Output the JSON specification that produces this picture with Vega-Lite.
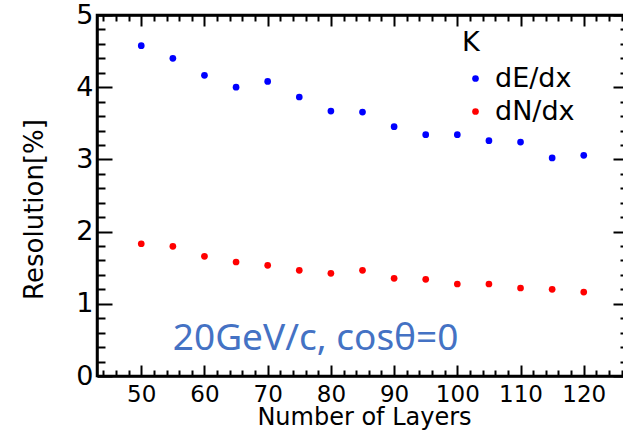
{
  "$schema": "https://vega.github.io/schema/vega-lite/v6.json",
  "width": 531,
  "height": 361,
  "autosize": {"type": "none"},
  "padding": {"left": 97, "top": 15, "right": -5, "bottom": 58},
  "background": "white",
  "config": {
    "font": "DejaVu Sans",
    "view": {"stroke": "black", "strokeWidth": 2.5},
    "axis": {"domainColor": "black", "domainWidth": 2.5, "tickColor": "black", "tickWidth": 2, "labelColor": "black", "titleColor": "black", "grid": false, "labelOverlap": false, "labelFont": "DejaVu Sans", "titleFont": "DejaVu Sans", "titleFontWeight": "normal"}
  },
  "datasets": {
    "res": [
      {"layers": 50, "resolution": 4.575, "series": "dE/dx"},
      {"layers": 55, "resolution": 4.40, "series": "dE/dx"},
      {"layers": 60, "resolution": 4.165, "series": "dE/dx"},
      {"layers": 65, "resolution": 4.00, "series": "dE/dx"},
      {"layers": 70, "resolution": 4.08, "series": "dE/dx"},
      {"layers": 75, "resolution": 3.864, "series": "dE/dx"},
      {"layers": 80, "resolution": 3.67, "series": "dE/dx"},
      {"layers": 85, "resolution": 3.656, "series": "dE/dx"},
      {"layers": 90, "resolution": 3.453, "series": "dE/dx"},
      {"layers": 95, "resolution": 3.342, "series": "dE/dx"},
      {"layers": 100, "resolution": 3.342, "series": "dE/dx"},
      {"layers": 105, "resolution": 3.26, "series": "dE/dx"},
      {"layers": 110, "resolution": 3.24, "series": "dE/dx"},
      {"layers": 115, "resolution": 3.02, "series": "dE/dx"},
      {"layers": 120, "resolution": 3.057, "series": "dE/dx"},
      {"layers": 50, "resolution": 1.832, "series": "dN/dx"},
      {"layers": 55, "resolution": 1.796, "series": "dN/dx"},
      {"layers": 60, "resolution": 1.658, "series": "dN/dx"},
      {"layers": 65, "resolution": 1.579, "series": "dN/dx"},
      {"layers": 70, "resolution": 1.533, "series": "dN/dx"},
      {"layers": 75, "resolution": 1.464, "series": "dN/dx"},
      {"layers": 80, "resolution": 1.422, "series": "dN/dx"},
      {"layers": 85, "resolution": 1.464, "series": "dN/dx"},
      {"layers": 90, "resolution": 1.353, "series": "dN/dx"},
      {"layers": 95, "resolution": 1.339, "series": "dN/dx"},
      {"layers": 100, "resolution": 1.274, "series": "dN/dx"},
      {"layers": 105, "resolution": 1.274, "series": "dN/dx"},
      {"layers": 110, "resolution": 1.219, "series": "dN/dx"},
      {"layers": 115, "resolution": 1.20, "series": "dN/dx"},
      {"layers": 120, "resolution": 1.163, "series": "dN/dx"}
    ],
    "note": [
      {"layers": 55, "resolution": 0.36, "text": "20GeV/c, cosθ=0"}
    ]
  },
  "layer": [
    {
      "data": {"name": "res"},
      "mark": {"type": "point", "filled": true, "size": 45, "opacity": 1},
      "encoding": {
        "x": {
          "field": "layers", "type": "quantitative",
          "scale": {"domain": [43, 127], "nice": false, "zero": false},
          "axis": {
            "orient": "bottom",
            "title": "Number of Layers",
            "titleFontSize": 24,
            "titleX": 267,
            "titleY": 48,
            "titleAlign": "center",
            "titleBaseline": "alphabetic",
            "values": [44,46,48,50,52,54,56,58,60,62,64,66,68,70,72,74,76,78,80,82,84,86,88,90,92,94,96,98,100,102,104,106,108,110,112,114,116,118,120,122,124,126],
            "labelExpr": "datum.value % 10 === 0 ? datum.label : ''",
            "labelFontSize": 23,
            "labelPadding": 18,
            "tickSize": {"condition": {"test": "datum.value % 10 === 0", "value": -11}, "value": -6}
          }
        },
        "y": {
          "field": "resolution", "type": "quantitative",
          "scale": {"domain": [0, 5], "nice": false},
          "axis": {
            "orient": "left",
            "title": "Resolution[%]",
            "titleFontSize": 26,
            "titleX": -55,
            "titleY": 194,
            "titleAngle": 270,
            "titleAlign": "center",
            "titleBaseline": "alphabetic",
            "values": [0,0.2,0.4,0.6,0.8,1,1.2,1.4,1.6,1.8,2,2.2,2.4,2.6,2.8,3,3.2,3.4,3.6,3.8,4,4.2,4.4,4.6,4.8,5],
            "labelExpr": "abs(datum.value - round(datum.value)) < 0.01 ? format(datum.value, 'd') : ''",
            "labelFontSize": 27,
            "labelPadding": 19,
            "labelBaseline": "middle",
            "tickSize": {"condition": {"test": "abs(datum.value - round(datum.value)) < 0.01", "value": -15}, "value": -8}
          }
        },
        "color": {
          "field": "series", "type": "nominal",
          "scale": {"domain": ["dE/dx", "dN/dx"], "range": ["#0000ff", "#ff0000"]},
          "legend": {
            "title": "K",
            "orient": "none",
            "legendX": 365,
            "legendY": 15,
            "titleFontSize": 27,
            "titleFontWeight": "normal",
            "titleColor": "black",
            "titlePadding": 8,
            "labelFontSize": 27,
            "labelColor": "black",
            "labelFont": "DejaVu Sans",
            "titleFont": "DejaVu Sans",
            "symbolType": "circle",
            "symbolSize": 45,
            "symbolStrokeWidth": 0,
            "symbolOffset": 0,
            "labelOffset": 6,
            "rowPadding": 5
          }
        }
      }
    },
    {
      "data": {"name": "res"},
      "mark": {"type": "point", "filled": true, "size": 1, "opacity": 0},
      "encoding": {
        "x": {
          "field": "layers", "type": "quantitative",
          "axis": {
            "orient": "top",
            "title": null,
            "values": [44,46,48,50,52,54,56,58,60,62,64,66,68,70,72,74,76,78,80,82,84,86,88,90,92,94,96,98,100,102,104,106,108,110,112,114,116,118,120,122,124,126],
            "labels": false,
            "tickSize": {"condition": {"test": "datum.value % 10 === 0", "value": -11}, "value": -6}
          }
        },
        "y": {
          "field": "resolution", "type": "quantitative",
          "axis": {
            "orient": "right",
            "title": null,
            "values": [0,0.2,0.4,0.6,0.8,1,1.2,1.4,1.6,1.8,2,2.2,2.4,2.6,2.8,3,3.2,3.4,3.6,3.8,4,4.2,4.4,4.6,4.8,5],
            "labels": false,
            "tickSize": {"condition": {"test": "abs(datum.value - round(datum.value)) < 0.01", "value": -15}, "value": -8}
          }
        }
      }
    },
    {
      "data": {"name": "note"},
      "mark": {"type": "text", "align": "left", "baseline": "alphabetic", "font": "Noto Sans", "fontSize": 37, "color": "#4472c4"},
      "encoding": {
        "x": {"field": "layers", "type": "quantitative", "axis": null},
        "y": {"field": "resolution", "type": "quantitative", "axis": null},
        "text": {"field": "text"}
      }
    }
  ],
  "resolve": {"axis": {"x": "independent", "y": "independent"}}
}
